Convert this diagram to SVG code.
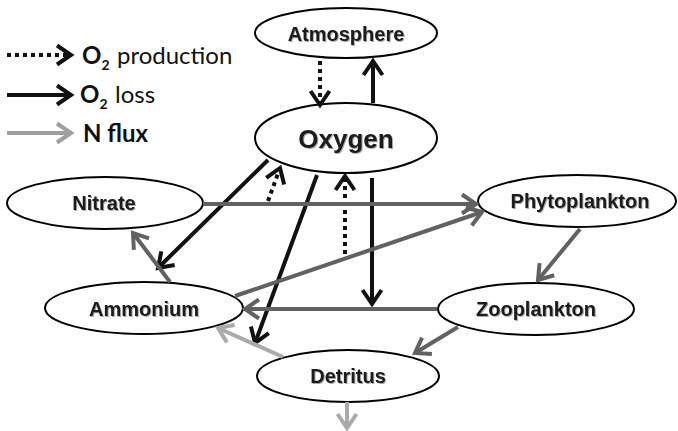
<svg xmlns="http://www.w3.org/2000/svg" width="678" height="431" viewBox="0 0 678 431">
<style>
.node ellipse{fill:#fff;stroke:#000;stroke-width:2}
.node text{font-family:"Liberation Sans",Arial,sans-serif;font-weight:bold;font-size:20px;fill:#1a1a1a;text-anchor:middle;filter:url(#sh)}
.c{fill:none;stroke-width:4;stroke-linecap:butt}
.k{stroke:#111;marker-end:url(#mk)}
.d{stroke:#111;stroke-dasharray:4 4;marker-end:url(#mk)}
.g{stroke:#616161;marker-end:url(#mg)}
.l{stroke:#aaa;marker-end:url(#ml)}
.leg{font-family:Lato,"Open Sans",sans-serif;font-size:24px;fill:#111}
</style>
<defs>
<filter id="sh" x="-10%" y="-20%" width="130%" height="150%">
<feDropShadow dx="1" dy="1" stdDeviation="0.6" flood-color="#000" flood-opacity="0.35"/>
</filter>
<marker id="mk" markerUnits="userSpaceOnUse" viewBox="0 0 22 22" refX="18" refY="11" markerWidth="22" markerHeight="22" orient="auto" overflow="visible">
<path d="M4,1.5 L18,11 L4,20.5" fill="none" stroke="#111" stroke-width="4"/>
</marker>
<marker id="mg" markerUnits="userSpaceOnUse" viewBox="0 0 22 22" refX="18" refY="11" markerWidth="22" markerHeight="22" orient="auto" overflow="visible">
<path d="M4,1.5 L18,11 L4,20.5" fill="none" stroke="#616161" stroke-width="4"/>
</marker>
<marker id="ml" markerUnits="userSpaceOnUse" viewBox="0 0 22 22" refX="18" refY="11" markerWidth="22" markerHeight="22" orient="auto" overflow="visible">
<path d="M4,1.5 L18,11 L4,20.5" fill="none" stroke="#aaa" stroke-width="4"/>
</marker>
<marker id="mlg" markerUnits="userSpaceOnUse" viewBox="0 0 22 22" refX="18" refY="11" markerWidth="22" markerHeight="22" orient="auto" overflow="visible">
<path d="M4,1.5 L18,11 L4,20.5" fill="none" stroke="#9e9e9e" stroke-width="4"/>
</marker>
</defs>
<rect width="678" height="431" fill="#fff"/>

<g id="legend">
<line class="c d" x1="7" y1="55" x2="71" y2="55"/>
<line class="c k" x1="7" y1="95" x2="71" y2="95"/>
<line x1="7" y1="133" x2="71" y2="133" stroke="#9e9e9e" stroke-width="4" fill="none" marker-end="url(#mlg)"/>
<text class="leg" x="82" y="64"><tspan font-weight="bold">O</tspan><tspan font-weight="bold" font-size="14" dy="6">2</tspan><tspan x="117" dy="-6">production</tspan></text>
<text class="leg" x="80" y="103"><tspan font-weight="bold">O</tspan><tspan font-weight="bold" font-size="14" dy="6">2</tspan><tspan x="115" dy="-6">loss</tspan></text>
<text class="leg" x="83" y="142" font-weight="bold">N flux</text>
</g>

<g id="atmosphere" class="node"><ellipse cx="346" cy="33" rx="91" ry="25"/><text x="346" y="41">Atmosphere</text></g>
<g id="oxygen" class="node"><ellipse cx="346" cy="138" rx="91" ry="35"/><text x="346" y="148" style="font-size:26px">Oxygen</text></g>
<g id="nitrate" class="node"><ellipse cx="105" cy="203" rx="98" ry="26"/><text x="104" y="210">Nitrate</text></g>
<g id="phytoplankton" class="node"><ellipse cx="577" cy="201" rx="99" ry="26"/><text x="580" y="208">Phytoplankton</text></g>
<g id="ammonium" class="node"><ellipse cx="144" cy="308" rx="99" ry="26"/><text x="144" y="316">Ammonium</text></g>
<g id="zooplankton" class="node"><ellipse cx="536" cy="309" rx="98" ry="26"/><text x="536" y="316">Zooplankton</text></g>
<g id="detritus" class="node"><ellipse cx="348" cy="376" rx="91" ry="26"/><text x="348" y="383">Detritus</text></g>

<g id="connectors">
<line class="c d" x1="320" y1="61" x2="320" y2="105"/>
<line class="c k" x1="373" y1="103" x2="373" y2="61"/>
<line class="c k" x1="268" y1="160" x2="158" y2="268"/>
<line class="c d" x1="268" y1="201" x2="280" y2="168"/>
<line class="c k" x1="317" y1="175" x2="255" y2="343"/>
<line class="c d" x1="345" y1="254" x2="345" y2="176"/>
<line class="c k" x1="372" y1="178" x2="372" y2="304"/>
<line class="c g" x1="203" y1="204" x2="476" y2="204"/>
<line class="c g" x1="235" y1="296" x2="482" y2="212"/>
<line class="c g" x1="437" y1="309" x2="245" y2="309"/>
<line class="c g" x1="170" y1="282" x2="133" y2="233"/>
<line class="c g" x1="580" y1="229" x2="538" y2="280"/>
<line class="c g" x1="458" y1="327" x2="415" y2="353"/>
<line class="c l" x1="283" y1="357" x2="218" y2="328"/>
<line class="c l" x1="347" y1="402" x2="347" y2="428"/>
</g>
</svg>
